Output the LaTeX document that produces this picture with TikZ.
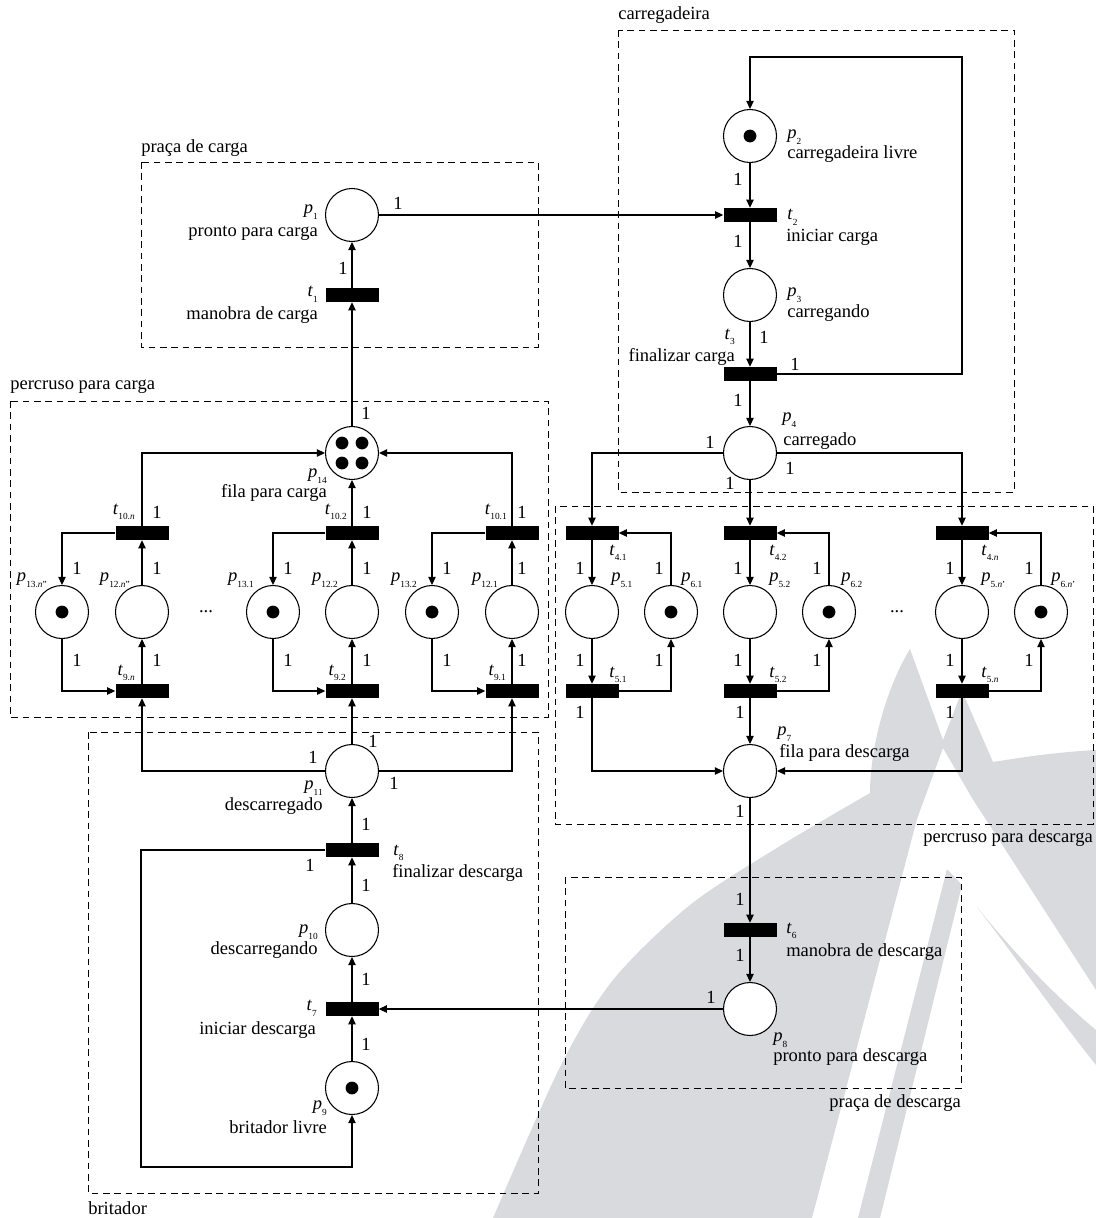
\documentclass[tikz,border=0pt]{standalone}
\usepackage{fontspec}
\setmainfont{Liberation Serif}
\usetikzlibrary{arrows.meta}
\definecolor{wm}{RGB}{217,218,221}
\newcommand\sbx[1]{\raisebox{-0.3em}{\fontsize{7}{7}\selectfont #1}}
\newcommand\plc[1]{\textit{p}\sbx{#1}}
\newcommand\trn[1]{\textit{t}\sbx{#1}}
\begin{document}
\begin{tikzpicture}[x=0.75pt,y=-0.75pt,
  place/.style={circle,draw,fill=white,line width=0.8pt,minimum size=39.75pt,inner sep=0pt},
  trans/.style={rectangle,fill=black,minimum width=39.75pt,minimum height=10.5pt,inner sep=0pt},
  arc/.style={-{Triangle[length=6pt,width=5.5pt]},line width=0.8pt},
  lbl/.style={font=\fontsize{13.9}{15}\selectfont,inner sep=0pt},
  group/.style={draw,dash pattern=on 5pt off 3.5pt,line width=0.6pt},
  tok/.style={fill=black}]
\useasboundingbox (0,0) rectangle (1096,1218);
% watermark
\fill[wm] plot[smooth] coordinates {(493,1218) (560,1067) (613,980) (690,905) (780,846) (870,793)}
  .. controls (870,750) and (885,690) .. (910,649) -- (943,740) -- (962,691) -- (993,762)
  .. controls (1030,756) and (1060,752) .. (1096,750) -- (1096,990) -- (972,798) -- (943,748) -- (917,819) -- (812,1218) -- cycle;
\fill[wm] (947,869) -- (962,885) -- (880,1218) -- (858,1218) -- cycle;
\fill[wm] (977,907) .. controls (1020,960) and (1060,1000) .. (1096,1030) -- (1096,1065) .. controls (1060,1020) and (1010,950) .. (977,907) -- cycle;
% groups
\draw[group] (141,162) rectangle (538,347);
\draw[group] (10,401) rectangle (548,717);
\draw[group] (618,30) rectangle (1014,492);
\draw[group] (88,732) rectangle (538,1193);
\draw[group] (555,506) rectangle (1093,824);
\draw[group] (565,877) rectangle (961,1088);
\node[lbl,anchor=west] (g1) at (141,148) {praça de carga};
\node[lbl,anchor=west] (g2) at (10,387) {percruso para carga};
\node[lbl,anchor=west] (g3) at (618,15) {carregadeira};
\node[lbl,anchor=west] (g4) at (88,1208) {britador};
\node[lbl,anchor=east] (g5) at (1093,838) {percruso para descarga};
\node[lbl,anchor=east] (g6) at (961,1103) {praça de descarga};
% places
\node[place] (p1) at (352,215) {};
\node[place] (p2) at (750,136) {};
\node[place] (p3) at (750,295) {};
\node[place] (p4) at (750,453) {};
\node[place] (p14) at (352,453) {};
\node[place] (p13n) at (62,612) {};
\node[place] (p12n) at (142,612) {};
\node[place] (p131) at (273,612) {};
\node[place] (p122) at (352,612) {};
\node[place] (p132) at (432,612) {};
\node[place] (p121) at (512,612) {};
\node[place] (p51) at (592,612) {};
\node[place] (p61) at (671,612) {};
\node[place] (p52) at (750,612) {};
\node[place] (p62) at (829,612) {};
\node[place] (p5n) at (962,612) {};
\node[place] (p6n) at (1041,612) {};
\node[place] (p7) at (750,771) {};
\node[place] (p8) at (750,1009) {};
\node[place] (p11) at (352,771) {};
\node[place] (p10) at (352,930) {};
\node[place] (p9) at (352,1088) {};
% tokens
\foreach \n in {p2,p13n,p131,p132,p61,p62,p6n,p9} \fill[tok] (\n) circle[radius=4.8pt];
\foreach \dx/\dy in {-10/-10,10/-10,-10/10,10/10} \fill[tok] ([shift={(\dx,\dy)}]p14.center) circle[radius=4.8pt];
% transitions
\node[trans] (t1) at (352,295) {};
\node[trans] (t2) at (750,215) {};
\node[trans] (t3) at (750,374) {};
\node[trans] (t10n) at (142,533) {};
\node[trans] (t102) at (352,533) {};
\node[trans] (t101) at (512,533) {};
\node[trans] (t9n) at (142,691) {};
\node[trans] (t92) at (352,691) {};
\node[trans] (t91) at (512,691) {};
\node[trans] (t41) at (592,533) {};
\node[trans] (t42) at (750,533) {};
\node[trans] (t4n) at (962,533) {};
\node[trans] (t51) at (592,691) {};
\node[trans] (t52) at (750,691) {};
\node[trans] (t5n) at (962,691) {};
\node[trans] (t6) at (750,930) {};
\node[trans] (t7) at (352,1009) {};
\node[trans] (t8) at (352,850) {};
% helper coordinates
\coordinate (c1) at (962,374);
\coordinate (c2) at (962,57);
\coordinate (b1) at (141,850);
\coordinate (b2) at (141,1167);
% arcs
\draw[arc] (p1) -- (t2);
\draw[arc] (t1) -- (p1);
\draw[arc] (p14) -- (t1);
\draw[arc] (t10n) |- (p14);
\draw[arc] (t102) -- (p14);
\draw[arc] (t101) |- (p14);
\foreach \t/\a/\b/\s in {t10n/p13n/p12n/t9n, t102/p131/p122/t92, t101/p132/p121/t91}{
  \draw[arc] (\t) -| (\a);
  \draw[arc] (\b) -- (\t);
  \draw[arc] (\a) |- (\s);
  \draw[arc] (\s) -- (\b);
}
\draw[arc] (p11) -| (t9n);
\draw[arc] (p11) -- (t92);
\draw[arc] (p11) -| (t91);
\draw[arc] (t8) -- (p11);
\draw[arc] (p10) -- (t8);
\draw[arc] (t7) -- (p10);
\draw[arc] (p9) -- (t7);
\draw[arc] (t8) -- (b1) -- (b2) -| (p9);
\draw[arc] (p8) -- (t7);
\draw[arc] (p2) -- (t2);
\draw[arc] (t2) -- (p3);
\draw[arc] (p3) -- (t3);
\draw[arc] (t3) -- (p4);
\draw[arc] (t3) -- (c1) -- (c2) -| (p2);
\draw[arc] (p4) -| (t41);
\draw[arc] (p4) -- (t42);
\draw[arc] (p4) -| (t4n);
\foreach \t/\a/\b/\s in {t41/p51/p61/t51, t42/p52/p62/t52, t4n/p5n/p6n/t5n}{
  \draw[arc] (\t) -- (\a);
  \draw[arc] (\b) |- (\t);
  \draw[arc] (\a) -- (\s);
  \draw[arc] (\s) -| (\b);
}
\draw[arc] (t51) |- (p7);
\draw[arc] (t52) -- (p7);
\draw[arc] (t5n) |- (p7);
\draw[arc] (p7) -- (t6);
\draw[arc] (t6) -- (p8);
% weights
\foreach \x/\y [count=\i] in {398/203, 343/268, 366/413,
  157/512, 367/512, 522/512,
  77/568, 157/568, 288/568, 367/568, 447/568, 522/568,
  77/660, 157/660, 288/660, 367/660, 447/660, 522/660,
  373/741, 313/757, 394/783, 366/824, 310/865, 366/885, 366/979, 366/1044,
  738/179, 738/241, 764/337, 795/364, 738/400,
  710/442, 790/468, 730/483,
  580/568, 659/568, 738/568, 817/568, 950/568, 1029/568,
  580/660, 659/660, 738/660, 817/660, 950/660, 1029/660,
  580/712, 740/712, 950/712,
  740/811, 740/899, 740/955, 711/997}
  \node[lbl] (w\i) at (\x,\y) {1};
% place and transition labels
\node[lbl,anchor=east] (lp1) at (318,212) {\plc{1}};
\node[lbl,anchor=east] (np1) at (318,233) {pronto para carga};
\node[lbl,anchor=east] (lt1) at (318,294) {\trn{1}};
\node[lbl,anchor=east] (nt1) at (318,315) {manobra de carga};
\node[lbl,anchor=east] (lp14) at (327,476) {\plc{14}};
\node[lbl,anchor=east] (np14) at (327,493) {fila para carga};
\node[lbl,anchor=east] (lt10n) at (135,512) {\trn{10.\textit{n}}};
\node[lbl,anchor=east] (lt102) at (347,512) {\trn{10.2}};
\node[lbl,anchor=east] (lt101) at (507,512) {\trn{10.1}};
\node[lbl,anchor=east] (lp13n) at (47,580) {\plc{13.\textit{n}''}};
\node[lbl,anchor=east] (lp12n) at (130,580) {\plc{12.\textit{n}''}};
\node[lbl,anchor=east] (lp131) at (254,580) {\plc{13.1}};
\node[lbl,anchor=east] (lp122) at (338,580) {\plc{12.2}};
\node[lbl,anchor=east] (lp132) at (417,580) {\plc{13.2}};
\node[lbl,anchor=east] (lp121) at (498,580) {\plc{12.1}};
\node[lbl,anchor=east] (lt9n) at (135,673) {\trn{9.\textit{n}}};
\node[lbl,anchor=east] (lt92) at (346,673) {\trn{9.2}};
\node[lbl,anchor=east] (lt91) at (506,673) {\trn{9.1}};
\node[lbl] (dots1) at (206,612) {...};
\node[lbl] (dots2) at (897,612) {...};
\node[lbl,anchor=east] (lp11) at (323,788) {\plc{11}};
\node[lbl,anchor=east] (np11) at (323,806) {descarregado};
\node[lbl,anchor=west] (lt8) at (393,853) {\trn{8}};
\node[lbl,anchor=west] (nt8) at (392,873) {finalizar descarga};
\node[lbl,anchor=east] (lp10) at (318,932) {\plc{10}};
\node[lbl,anchor=east] (np10) at (318,950) {descarregando};
\node[lbl,anchor=east] (lt7) at (317,1008) {\trn{7}};
\node[lbl,anchor=east] (nt7) at (316,1030) {iniciar descarga};
\node[lbl,anchor=east] (lp9) at (327,1108) {\plc{9}};
\node[lbl,anchor=east] (np9) at (327,1127) {britador livre};
\node[lbl,anchor=west] (lp2) at (787,137) {\plc{2}};
\node[lbl,anchor=west] (np2) at (787,154) {carregadeira livre};
\node[lbl,anchor=west] (lt2) at (787,217) {\trn{2}};
\node[lbl,anchor=west] (nt2) at (786,237) {iniciar carga};
\node[lbl,anchor=west] (lp3) at (787,295) {\plc{3}};
\node[lbl,anchor=west] (np3) at (787,313) {carregando};
\node[lbl,anchor=east] (lt3) at (735,337) {\trn{3}};
\node[lbl,anchor=east] (nt3) at (735,357) {finalizar carga};
\node[lbl,anchor=west] (lp4) at (782,420) {\plc{4}};
\node[lbl,anchor=west] (np4) at (783,441) {carregado};
\node[lbl,anchor=west] (lt41) at (609,553) {\trn{4.1}};
\node[lbl,anchor=west] (lt42) at (769,553) {\trn{4.2}};
\node[lbl,anchor=west] (lt4n) at (981,553) {\trn{4.\textit{n}}};
\node[lbl,anchor=west] (lp51) at (611,580) {\plc{5.1}};
\node[lbl,anchor=west] (lp61) at (681,580) {\plc{6.1}};
\node[lbl,anchor=west] (lp52) at (769,580) {\plc{5.2}};
\node[lbl,anchor=west] (lp62) at (841,580) {\plc{6.2}};
\node[lbl,anchor=west] (lp5n) at (981,580) {\plc{5.\textit{n}'}};
\node[lbl,anchor=west] (lp6n) at (1051,580) {\plc{6.\textit{n}'}};
\node[lbl,anchor=west] (lt51) at (609,675) {\trn{5.1}};
\node[lbl,anchor=west] (lt52) at (769,675) {\trn{5.2}};
\node[lbl,anchor=west] (lt5n) at (981,675) {\trn{5.\textit{n}}};
\node[lbl,anchor=west] (lp7) at (777,734) {\plc{7}};
\node[lbl,anchor=west] (np7) at (779,753) {fila para descarga};
\node[lbl,anchor=west] (lt6) at (786,931) {\trn{6}};
\node[lbl,anchor=west] (nt6) at (786,952) {manobra de descarga};
\node[lbl,anchor=west] (lp8) at (773,1040) {\plc{8}};
\node[lbl,anchor=west] (np8) at (773,1057) {pronto para descarga};
\end{tikzpicture}
\end{document}
